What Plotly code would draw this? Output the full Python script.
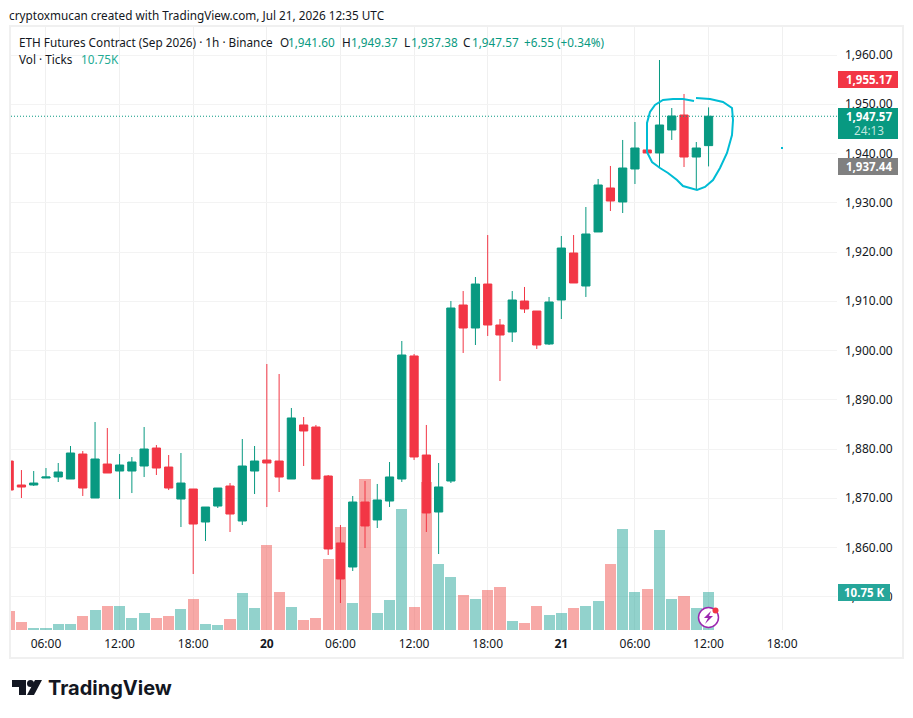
import pandas as pd
import plotly.graph_objs as go

# hourly candles, Jul 19 03:00 to Jul 21 12:00
times = pd.date_range("2026-07-19 03:00", "2026-07-21 12:00", freq="h")

open_vals = [
	1877.56, 1872.69, 1872.69, 1874.11, 1874.31, 1873.91, 1878.98, 1870.05, 1876.95, 1875.53, 1875.53, 1876.55,
	1880.20, 1876.34, 1869.85, 1871.88, 1865.18, 1868.42, 1872.49, 1865.38, 1875.53, 1877.76, 1877.56, 1873.91,
	1884.88, 1884.47, 1874.52, 1860.92, 1856.04, 1869.24, 1865.59, 1869.44, 1873.91, 1898.89, 1878.78, 1867.21,
	1873.50, 1909.24, 1904.57, 1913.50, 1905.18, 1903.76, 1910.05, 1908.02, 1901.32, 1910.26, 1919.80, 1913.10,
	1924.07, 1933.00, 1930.16, 1936.86, 1940.72, 1940.11, 1944.78, 1947.82, 1939.29, 1941.60,
]
high_vals = [
	1877.56, 1875.73, 1875.53, 1876.14, 1877.16, 1880.61, 1879.59, 1885.48, 1884.26, 1878.98, 1878.37, 1884.47,
	1880.81, 1878.78, 1879.19, 1871.88, 1868.22, 1872.08, 1873.09, 1882.03, 1880.61, 1897.26, 1895.23, 1888.33,
	1886.50, 1884.88, 1874.72, 1864.57, 1870.46, 1873.51, 1872.90, 1877.36, 1901.93, 1899.29, 1884.88, 1877.16,
	1910.05, 1912.08, 1914.93, 1923.45, 1906.40, 1912.08, 1912.90, 1908.02, 1910.87, 1923.25, 1923.45, 1929.14,
	1934.83, 1937.47, 1942.75, 1946.40, 1946.40, 1958.99, 1949.24, 1952.09, 1942.34, 1949.37,
]
low_vals = [
	1871.67, 1870.05, 1872.49, 1874.11, 1873.30, 1873.91, 1870.46, 1870.05, 1875.13, 1869.85, 1871.06, 1874.31,
	1874.72, 1871.67, 1864.16, 1854.62, 1861.32, 1868.02, 1863.15, 1864.57, 1870.86, 1868.22, 1871.27, 1873.91,
	1876.55, 1873.91, 1858.48, 1848.73, 1855.23, 1859.90, 1863.96, 1868.23, 1873.30, 1877.77, 1863.15, 1858.68,
	1873.10, 1899.50, 1901.12, 1902.95, 1893.81, 1901.73, 1907.62, 1900.31, 1901.12, 1906.40, 1913.71, 1910.87,
	1924.07, 1928.33, 1927.92, 1933.81, 1940.11, 1937.26, 1942.75, 1937.26, 1932.80, 1937.38,
]
close_vals = [
	1871.67, 1872.28, 1873.09, 1874.31, 1875.33, 1879.19, 1872.08, 1877.97, 1875.13, 1876.75, 1877.36, 1880.00,
	1876.14, 1872.08, 1873.09, 1864.77, 1868.22, 1872.08, 1866.80, 1876.55, 1877.56, 1877.16, 1874.31, 1886.30,
	1883.66, 1873.91, 1859.70, 1853.61, 1869.24, 1864.37, 1869.65, 1874.32, 1899.09, 1878.38, 1867.01, 1872.29,
	1908.63, 1904.57, 1913.50, 1905.18, 1903.15, 1910.26, 1908.43, 1901.12, 1909.85, 1920.81, 1913.71, 1923.66,
	1933.61, 1930.36, 1937.06, 1941.12, 1940.11, 1945.79, 1947.62, 1939.29, 1941.12, 1947.57,
]
# ticks volume, thousands
volume_vals = [
	5.37, 2.26, 0.57, 0.57, 1.70, 1.70, 3.96, 5.66, 6.79, 6.79, 3.39, 4.81,
	3.39, 3.96, 5.94, 8.77, 1.70, 1.41, 3.11, 10.47, 6.22, 24.05, 10.75, 6.51,
	2.83, 3.39, 20.09, 29.14, 7.64, 42.72, 4.81, 8.49, 34.23, 6.51, 41.87, 18.67,
	14.99, 9.90, 8.77, 11.32, 12.16, 2.55, 1.98, 6.79, 4.24, 4.81, 6.22, 6.79,
	8.20, 18.67, 28.57, 10.75, 11.60, 28.29, 8.77, 9.62, 6.22, 10.75,
]

time_ticks = ["2026-07-19 06:00", "2026-07-19 12:00", "2026-07-19 18:00", "2026-07-20 00:00",
	"2026-07-20 06:00", "2026-07-20 12:00", "2026-07-20 18:00", "2026-07-21 00:00",
	"2026-07-21 06:00", "2026-07-21 12:00", "2026-07-21 18:00"]
time_labels = ["06:00", "12:00", "18:00", "<b>20</b>", "06:00", "12:00", "18:00", "<b>21</b>", "06:00", "12:00", "18:00"]
price_ticks = [1850, 1860, 1870, 1880, 1890, 1900, 1910, 1920, 1930, 1940, 1950, 1960]

last_price = 1947.57
legend_items = [
	(18, "ETH Futures Contract (Sep 2026) · 1h · Binance", "#131722"),
	(279, "O", "#131722"), (287, "1,941.60", "#089981"),
	(341, "H", "#131722"), (350, "1,949.37", "#089981"),
	(403, "L", "#131722"), (410, "1,937.38", "#089981"),
	(462, "C", "#131722"), (471, "1,947.57", "#089981"),
	(523, "+6.55 (+0.34%)", "#089981"),
]
# hand drawn circle, page pixels
curve_x = [694, 683, 673, 663, 655, 650, 647, 647, 647, 652, 660, 668, 677, 683, 697, 705, 713, 720, 727, 732, 733, 732, 723, 710, 696]
curve_y = [101, 99, 99, 100, 105, 112, 123, 140, 152, 162, 168, 173, 180, 186, 190, 187, 180, 168, 153, 135, 120, 108, 102, 99, 98]

GREEN = "#089981"
RED = "#F23645"
FONT = "Noto Sans"
L, R, T, B = 11, 837, 27, 630


def px(x):
	return (x - L) / (R - L)


def py(y):
	return (B - y) / (B - T)


def rect(x0, y0, x1, y1, fill, line=None, width=0):
	return dict(type="rect", xref="paper", yref="paper", x0=px(x0), x1=px(x1), y0=py(y0), y1=py(y1),
		fillcolor=fill, line=dict(color=line or fill, width=width), layer="above")


def poly(points, fill):
	path = "M " + " L ".join("%.5f,%.5f" % (px(a), py(b)) for a, b in points) + " Z"
	return dict(type="path", xref="paper", yref="paper", path=path, fillcolor=fill, line=dict(width=0), layer="above")


def circle(cx, cy, r, fill, line=None, width=0):
	return dict(type="circle", xref="paper", yref="paper", x0=px(cx - r), x1=px(cx + r), y0=py(cy + r), y1=py(cy - r),
		fillcolor=fill, line=dict(color=line or fill, width=width), layer="above")


def label(x, y, text, color="#131722", size=11.75, anchor="left", family=FONT):
	return dict(xref="paper", yref="paper", x=px(x), y=py(y), text=text, showarrow=False, xanchor=anchor,
		yanchor="middle", borderpad=0, font=dict(family=family, size=size, color=color))


vol_colors = ["rgba(38,166,154,0.5)" if c >= o else "rgba(239,83,80,0.5)" for o, c in zip(open_vals, close_vals)]

Volume = go.Bar(x=times, y=volume_vals, marker=dict(color=vol_colors, line=dict(width=0)), width=3250000, yaxis="y", name="Vol")
Candles = go.Candlestick(
	x=times, open=open_vals, high=high_vals, low=low_vals, close=close_vals, yaxis="y2", name="ETH",
	increasing=dict(line=dict(color=GREEN, width=1), fillcolor=GREEN),
	decreasing=dict(line=dict(color=RED, width=1), fillcolor=RED),
	whiskerwidth=0,
)
fig = go.Figure(data=[Volume, Candles])

shapes = [
	rect(10, 26, 903, 658, "rgba(0,0,0,0)", "#F0F0F0", 2),
	dict(type="line", xref="paper", yref="y2", x0=0, x1=1, y0=last_price, y1=last_price,
		line=dict(color=GREEN, width=1, dash="1px,2px"), layer="above"),
	dict(type="path", xref="paper", yref="paper", line=dict(color="#00BCD4", width=2), layer="above",
		path="M " + " L ".join("%.5f,%.5f" % (px(a), py(b)) for a, b in zip(curve_x, curve_y))),
	rect(781, 147, 783, 149, "#00BCD4"),
	rect(838, 71, 898, 88, RED),
	rect(838, 108, 898, 139, GREEN),
	rect(838, 158, 898, 175, "#808080"),
	rect(838, 584, 890, 601, "#26A69A"),
	# bolt badge
	circle(708.5, 617.5, 10, "white", "#9C27B0", 1.5),
	poly([(711, 611), (704, 618), (708, 618), (705, 624), (713, 616), (709, 616)], "#9C27B0"),
	circle(715.5, 610.5, 3, RED),
	# logo
	poly([(12, 680), (26, 680), (26, 695), (19, 695), (19, 687), (12, 687)], "#131722"),
	circle(30.5, 683.5, 3.5, "#131722"),
	poly([(27, 695), (35, 680), (42, 680), (34, 695)], "#131722"),
]

annotations = [
	label(8, 15, "cryptoxmucan created with TradingView.com, Jul 21, 2026 12:35 UTC"),
	label(18, 59, "Vol · Ticks"),
	label(80, 59, "10.75K", "#22AB94"),
	label(869, 79.5, "<b>1,955.17</b>", "white", 11.5, "center"),
	label(869, 116, "<b>1,947.57</b>", "white", 11.5, "center"),
	label(869, 130, "24:13", "#BFE6DF", 11.75, "center"),
	label(869, 166.5, "<b>1,937.44</b>", "white", 11.5, "center"),
	label(864, 592.5, "<b>10.75 K</b>", "white", 11.5, "center"),
	label(46.5, 688, "<b>TradingView</b>", "#131722", 20, "left", "Inter"),
]
for x, text, color in legend_items:
	annotations.append(label(x, 42, text, color))

fig.update_layout(
	width=913, height=718,
	margin=dict(l=L, r=913 - R, t=T, b=718 - B, pad=0),
	paper_bgcolor="white", plot_bgcolor="white",
	showlegend=False, boxgap=0.33, boxgroupgap=0, bargap=0,
	font=dict(family=FONT, size=12, color="#131722"),
	xaxis=dict(type="date", range=["2026-07-19 03:09", "2026-07-21 22:28"], rangeslider=dict(visible=False),
		tickmode="array", tickvals=time_ticks, ticktext=time_labels, ticks="", showline=False, zeroline=False,
		showgrid=True, gridcolor="#F0F0F0", gridwidth=1, tickangle=0, ticklabelstandoff=5),
	yaxis=dict(range=[0, 170.6], visible=False, showgrid=False, zeroline=False),
	yaxis2=dict(overlaying="y", side="right", range=[1843.25, 1965.69], tickmode="array", tickvals=price_ticks,
		tickformat=",.2f", ticks="", showline=False, zeroline=False, showgrid=True, gridcolor="#F3F3F3", gridwidth=1,
		ticklabelstandoff=7),
	shapes=shapes,
	annotations=annotations,
)

fig.write_html("out.html", config=dict(displayModeBar=False),
	post_script="document.body.style.margin='0';document.body.style.overflow='hidden';")
